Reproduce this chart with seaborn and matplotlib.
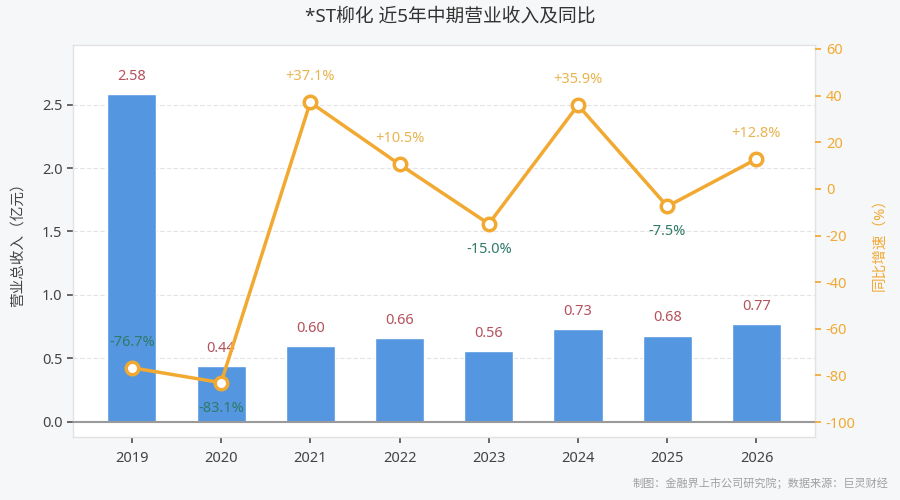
import pandas as pd
import numpy as np
import seaborn as sns
import matplotlib.pyplot as plt

years = ['2019', '2020', '2021', '2022', '2023', '2024', '2025', '2026']
revenue = [2.58, 0.44, 0.60, 0.66, 0.56, 0.73, 0.68, 0.77]
growth = [-76.7, -83.1, 37.1, 10.5, -15.0, 35.9, -7.5, 12.8]

df = pd.DataFrame({'year': years, 'revenue': revenue, 'growth': growth})
df['pos'] = df.index

sns.set_theme(style='white')
plt.rcParams['font.family'] = ['Noto Sans', 'Noto Sans CJK SC', 'DejaVu Sans']
plt.rcParams['axes.unicode_minus'] = False

bar_color = '#5596e0'
line_color = '#f2a932'
rev_label = '#b5525c'
pos_label = '#e8b450'
neg_label = '#2f7a68'
text_dark = '#444444'

fig = plt.figure(figsize=(9, 5), dpi=100, facecolor='#f6f7f9')
ax = fig.add_axes([0.081, 0.126, 0.825, 0.784])
ax.set_facecolor('white')

sns.barplot(data=df, x='year', y='revenue', color=bar_color, saturation=1,
            width=0.55, ax=ax, zorder=2)
ax.set_xlim(-0.66, 7.66)
ax.set_ylim(-0.12, 2.97)
ax.set_yticks([0.0, 0.5, 1.0, 1.5, 2.0, 2.5])
ax.set_yticklabels(['0.0', '0.5', '1.0', '1.5', '2.0', '2.5'])
for y in [0.5, 1.0, 1.5, 2.0, 2.5]:
    ax.axhline(y, color='#e3e3e3', lw=0.8, ls=(0, (4, 2)), zorder=0)
ax.axhline(0, color='#9a9a9a', lw=1.5, zorder=3)
ax.set_xlabel('')
ax.set_ylabel('营业总收入（亿元）', color=text_dark, fontsize=10.5, labelpad=12)
ax.tick_params(axis='both', colors=text_dark, labelsize=10.5, length=4, direction='out',
               left=True, bottom=True, color='#555555')
ax.tick_params(axis='x', pad=6)
for s in ax.spines.values():
    s.set_color('#e2e2e2')
    s.set_linewidth(1)

for i, v in enumerate(revenue):
    ax.text(i, v + 0.08, f'{v:.2f}', ha='center', va='bottom', color=rev_label, fontsize=10.5)

ax2 = ax.twinx()
sns.lineplot(data=df, x='pos', y='growth', color=line_color, lw=2.5, ax=ax2,
             marker='o', markersize=9, markerfacecolor='white',
             markeredgecolor=line_color, markeredgewidth=2.5, zorder=4)
ax2.set_ylim(-106.4, 61.7)
ax2.set_yticks([60, 40, 20, 0, -20, -40, -60, -80, -100])
ax2.set_xlim(-0.66, 7.66)
ax2.set_xlabel('')
ax2.set_ylabel('同比增速（%）', color=line_color, fontsize=10.5, rotation=90, labelpad=12)
ax2.tick_params(axis='y', colors=line_color, labelsize=10.5, length=4, right=True,
                color=line_color)
for s in ax2.spines.values():
    s.set_visible(False)
ax2.grid(False)

for i, g in enumerate(growth):
    txt = f'+{g:.1f}%' if g > 0 else f'{g:.1f}%'
    col = pos_label if g > 0 else neg_label
    if g > 0 or i == 0:
        ax2.annotate(txt, (i, g), xytext=(0, 13), textcoords='offset points',
                     ha='center', va='bottom', color=col, fontsize=10.5)
    else:
        ax2.annotate(txt, (i, g), xytext=(0, -13), textcoords='offset points',
                     ha='center', va='top', color=col, fontsize=10.5)

fig.suptitle('*ST柳化 近5年中期营业收入及同比', x=0.5, y=0.985, fontsize=13.5,
             color='#333333')
fig.text(0.987, 0.02, '制图：金融界上市公司研究院；数据来源：巨灵财经', ha='right',
         va='bottom', fontsize=8, color='#a0a0a0')

plt.savefig('out.png', dpi=100, facecolor=fig.get_facecolor())
